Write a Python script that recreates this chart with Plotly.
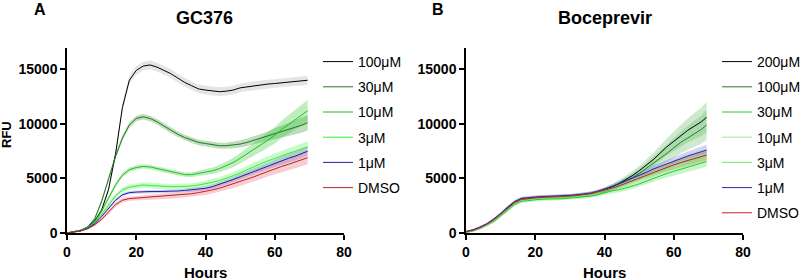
import plotly.graph_objects as go

# ---------------- data ----------------
hours = [0, 2, 4, 6, 8, 10, 12, 14, 16, 18, 20, 22, 24, 26, 28, 30, 32, 34, 36,
         38, 40, 42, 44, 46, 48, 50, 52, 54, 56, 58, 60, 62, 64, 66, 68, 69.5]

# Panel A: GC376
a_100 = [0, 100, 250, 550, 1100, 2100, 4000, 7200, 11500, 14000, 14900, 15300, 15400, 15200, 14900, 14600, 14200, 13800, 13500,
         13200, 13100, 13000, 12950, 13000, 13100, 13300, 13400, 13500, 13550, 13650, 13700, 13750, 13850, 13900, 13900, 14000]
a_30 = [0, 100, 250, 550, 1300, 2900, 5000, 7000, 8700, 9900, 10500, 10650, 10500, 10200, 9800, 9400, 9050, 8750, 8500,
        8300, 8200, 8100, 8000, 8000, 8050, 8150, 8300, 8500, 8650, 8850, 9100, 9300, 9500, 9700, 9900, 10100]
a_10 = [0, 100, 250, 500, 1000, 2000, 3200, 4400, 5300, 5800, 6000, 6100, 6050, 5900, 5750, 5600, 5450, 5350, 5350,
        5450, 5550, 5700, 5900, 6150, 6450, 6850, 7250, 7700, 8100, 8500, 8950, 9500, 9950, 10400, 10800, 11200]
a_3 = [0, 100, 250, 500, 950, 1700, 2600, 3400, 3950, 4200, 4300, 4400, 4350, 4300, 4250, 4250, 4250, 4250, 4300,
       4400, 4500, 4650, 4800, 5000, 5250, 5500, 5800, 6100, 6350, 6600, 6850, 7050, 7300, 7500, 7700, 7900]
a_1 = [0, 100, 200, 450, 850, 1500, 2300, 3000, 3500, 3700, 3750, 3800, 3800, 3800, 3800, 3850, 3850, 3900, 3950,
       4000, 4100, 4250, 4450, 4650, 4900, 5150, 5400, 5650, 5900, 6150, 6400, 6650, 6850, 7050, 7300, 7500]
a_dmso = [0, 100, 200, 400, 750, 1250, 1900, 2600, 3000, 3150, 3200, 3250, 3250, 3300, 3350, 3400, 3450, 3500, 3600,
          3700, 3800, 3950, 4100, 4300, 4500, 4700, 4950, 5150, 5400, 5650, 5900, 6100, 6300, 6500, 6700, 6900]

a_100_sd = [50, 60, 80, 100, 150, 200, 300, 400, 400, 400, 400, 400, 400, 400, 400, 400, 400, 400, 400,
            400, 400, 400, 400, 400, 400, 400, 400, 400, 400, 400, 400, 400, 400, 400, 400, 400]
a_30_sd = [50, 60, 80, 100, 150, 200, 250, 250, 250, 250, 250, 250, 250, 250, 250, 250, 250, 250, 250,
           250, 250, 260, 270, 280, 300, 320, 350, 380, 400, 450, 500, 550, 600, 650, 700, 700]
a_10_sd = [50, 60, 80, 100, 120, 150, 200, 200, 200, 200, 200, 200, 200, 200, 200, 200, 200, 200, 220,
           240, 260, 300, 340, 380, 420, 480, 540, 600, 650, 700, 750, 800, 850, 900, 950, 1000]
a_3_sd = [50, 60, 80, 100, 120, 150, 200, 200, 220, 240, 250, 250, 250, 250, 250, 250, 250, 250, 260,
          270, 280, 290, 300, 320, 340, 360, 380, 400, 420, 440, 460, 480, 500, 500, 500, 500]
a_1_sd = [50, 60, 80, 100, 120, 150, 150, 150, 150, 150, 150, 150, 150, 150, 150, 150, 150, 160, 170,
          180, 190, 200, 210, 220, 240, 260, 280, 300, 320, 340, 360, 380, 400, 400, 400, 400]
a_dmso_sd = [50, 60, 80, 100, 120, 150, 200, 200, 200, 200, 200, 200, 220, 240, 250, 260, 270, 280, 290,
             300, 310, 320, 340, 360, 380, 400, 420, 440, 460, 480, 500, 520, 540, 560, 580, 600]

# Panel B: Boceprevir
b_200 = [100, 250, 500, 800, 1200, 1700, 2300, 2800, 3100, 3200, 3250, 3300, 3300, 3350, 3350, 3400, 3450, 3500, 3600,
         3750, 3950, 4200, 4500, 4850, 5250, 5700, 6200, 6700, 7300, 7900, 8400, 8900, 9400, 9800, 10200, 10600]
b_100 = [100, 250, 480, 780, 1180, 1680, 2250, 2750, 3050, 3150, 3200, 3250, 3280, 3300, 3330, 3380, 3430, 3480, 3580,
         3700, 3850, 4100, 4400, 4700, 5050, 5450, 5900, 6350, 6850, 7300, 7800, 8300, 8700, 9100, 9500, 9900]
b_30 = [50, 180, 400, 700, 1050, 1550, 2100, 2600, 2900, 3000, 3050, 3100, 3100, 3150, 3150, 3200, 3250, 3300, 3380,
        3500, 3700, 3850, 3950, 4100, 4300, 4500, 4750, 5000, 5250, 5450, 5650, 5850, 6050, 6250, 6400, 6550]
b_10 = [100, 230, 470, 780, 1180, 1680, 2250, 2750, 3050, 3150, 3200, 3250, 3270, 3300, 3320, 3370, 3420, 3480, 3580,
        3720, 3900, 4100, 4350, 4600, 4850, 5100, 5350, 5600, 5850, 6100, 6350, 6550, 6750, 6950, 7100, 7250]
b_3 = [80, 200, 430, 730, 1120, 1620, 2180, 2680, 2980, 3080, 3130, 3180, 3200, 3230, 3250, 3300, 3350, 3420, 3520,
       3680, 3850, 4050, 4250, 4450, 4700, 4950, 5200, 5450, 5700, 5900, 6150, 6350, 6550, 6750, 6900, 7050]
b_1 = [150, 300, 550, 850, 1280, 1780, 2380, 2880, 3180, 3270, 3300, 3330, 3350, 3380, 3400, 3450, 3500, 3560, 3660,
       3820, 4000, 4250, 4500, 4750, 5000, 5250, 5550, 5850, 6100, 6350, 6600, 6850, 7050, 7250, 7450, 7600]
b_dmso = [100, 240, 480, 790, 1190, 1690, 2270, 2770, 3070, 3170, 3220, 3260, 3280, 3310, 3330, 3380, 3440, 3500, 3600,
          3750, 3900, 4100, 4300, 4550, 4800, 5050, 5300, 5550, 5800, 6050, 6250, 6450, 6650, 6850, 7000, 7150]

b_200_sd = [50, 60, 80, 100, 120, 150, 150, 150, 150, 150, 150, 150, 150, 150, 150, 150, 160, 170, 180,
            200, 220, 250, 300, 350, 400, 450, 500, 600, 700, 800, 900, 1000, 1100, 1200, 1300, 1400]
b_100_sd = [50, 60, 80, 100, 120, 150, 150, 150, 150, 150, 150, 150, 150, 150, 150, 150, 160, 170, 180,
            200, 220, 250, 300, 350, 400, 450, 500, 600, 700, 800, 900, 1000, 1100, 1200, 1300, 1400]
b_30_sd = [50, 60, 80, 100, 120, 150, 150, 150, 150, 150, 150, 150, 150, 150, 150, 150, 150, 150, 160,
           170, 180, 200, 220, 240, 260, 280, 300, 320, 340, 360, 380, 400, 420, 440, 460, 480]
b_10_sd = [50, 60, 80, 100, 120, 150, 150, 150, 150, 150, 150, 150, 150, 150, 150, 150, 150, 150, 160,
           170, 180, 200, 220, 240, 260, 280, 300, 320, 340, 360, 380, 400, 420, 440, 460, 480]
b_3_sd = [50, 60, 80, 100, 120, 150, 150, 150, 150, 150, 150, 150, 150, 150, 150, 150, 150, 150, 160,
          170, 180, 200, 220, 240, 260, 280, 300, 320, 340, 360, 380, 400, 420, 440, 460, 480]
b_1_sd = [50, 60, 80, 100, 120, 150, 150, 150, 150, 150, 150, 150, 150, 150, 150, 150, 150, 150, 160,
          170, 180, 200, 220, 240, 260, 280, 300, 320, 340, 360, 380, 400, 420, 440, 460, 480]
b_dmso_sd = [50, 60, 80, 100, 120, 150, 150, 150, 150, 150, 150, 150, 150, 150, 150, 150, 150, 150, 160,
             170, 180, 200, 220, 240, 260, 280, 300, 320, 340, 360, 380, 400, 420, 440, 460, 480]

labels_a = ["100μM", "30μM", "10μM", "3μM", "1μM", "DMSO"]
labels_b = ["200μM", "100μM", "30μM", "10μM", "3μM", "1μM", "DMSO"]
x_ticks = [0, 20, 40, 60, 80]
y_ticks = [0, 5000, 10000, 15000]

series_a = [(a_100, a_100_sd), (a_30, a_30_sd), (a_10, a_10_sd), (a_3, a_3_sd), (a_1, a_1_sd), (a_dmso, a_dmso_sd)]
series_b = [(b_200, b_200_sd), (b_100, b_100_sd), (b_30, b_30_sd), (b_10, b_10_sd), (b_3, b_3_sd), (b_1, b_1_sd), (b_dmso, b_dmso_sd)]

colors_a = ["#000000", "#1f7a1f", "#22c022", "#33ee33", "#1f1fa8", "#c01f2a"]
bands_a = ["rgba(150,150,150,0.25)", "rgba(40,140,40,0.30)", "rgba(40,200,40,0.30)",
           "rgba(80,240,80,0.30)", "rgba(80,80,200,0.25)", "rgba(220,60,70,0.25)"]
colors_b = ["#000000", "#2a7a2a", "#22cc22", "#a8e0a8", "#66ee66", "#2b2bb0", "#c01f2a"]
bands_b = ["rgba(60,170,60,0.25)", "rgba(60,170,60,0.25)", "rgba(40,210,40,0.25)",
           "rgba(150,220,150,0.25)", "rgba(100,240,100,0.25)", "rgba(80,80,200,0.25)", "rgba(220,60,70,0.20)"]

FONT = "Arial, Liberation Sans, sans-serif"

W, H = 800, 280


def px(x):
    return x / W


def py(y):
    return (H - y) / H


fig = go.Figure()


def add_panel(series, labels, colors, bands, xa, ya, legend):
    for (vals, sd), lab, col, band in zip(series, labels, colors, bands):
        upper = [v + s for v, s in zip(vals, sd)]
        lower = [v - s for v, s in zip(vals, sd)]
        fig.add_trace(go.Scatter(x=hours + hours[::-1], y=upper + lower[::-1], fill="toself",
                                 fillcolor=band, line=dict(width=0), mode="lines",
                                 hoverinfo="skip", showlegend=False, xaxis=xa, yaxis=ya))
    for (vals, sd), lab, col, band in zip(series, labels, colors, bands):
        fig.add_trace(go.Scatter(x=hours, y=vals, mode="lines", name=lab,
                                 line=dict(color=col, width=1), xaxis=xa, yaxis=ya,
                                 legend=legend, legendgroup=legend + lab))


add_panel(series_a, labels_a, colors_a, bands_a, "x", "y", "legend")
add_panel(series_b, labels_b, colors_b, bands_b, "x2", "y2", "legend2")

axis_common = dict(showline=True, linecolor="black", linewidth=1.5, ticks="outside",
                   ticklen=5, tickwidth=1.5, tickcolor="black", showgrid=False, zeroline=False,
                   automargin=False, tickformat="d",
                   tickfont=dict(family=FONT, size=14, color="black", weight="bold"))


def label(text, x, y, size, angle=0):
    return dict(text="<b>%s</b>" % text, x=px(x), y=py(y), xref="paper", yref="paper",
                xanchor="center", yanchor="middle", showarrow=False, textangle=angle,
                font=dict(size=size, family=FONT, color="black"))


ydom = [py(233), py(47.5)]
fig.update_layout(
    width=W, height=H, margin=dict(l=0, r=0, t=0, b=0, autoexpand=False),
    plot_bgcolor="white", paper_bgcolor="white",
    font=dict(family=FONT, color="black"),
    xaxis=dict(domain=[px(67), px(344)], range=[0, 80], tickvals=x_ticks, anchor="y", **axis_common),
    yaxis=dict(domain=ydom, range=[0, 17000], tickvals=y_ticks, anchor="x", **axis_common),
    xaxis2=dict(domain=[px(466), px(743)], range=[0, 80], tickvals=x_ticks, anchor="y2", **axis_common),
    yaxis2=dict(domain=ydom, range=[0, 17000], tickvals=y_ticks, anchor="x2", **axis_common),
    legend=dict(x=px(318), y=py(46), xanchor="left", yanchor="top",
                font=dict(size=14, family=FONT), itemwidth=30, tracegroupgap=4,
                bgcolor="rgba(0,0,0,0)"),
    legend2=dict(x=px(717), y=py(46), xanchor="left", yanchor="top",
                 font=dict(size=14, family=FONT), itemwidth=30, tracegroupgap=4,
                 bgcolor="rgba(0,0,0,0)"),
    annotations=[
        label("A", 40, 10, 16),
        label("B", 438, 10, 16),
        label("GC376", 205, 18, 18),
        label("Boceprevir", 605, 18, 18),
        label("Hours", 205.5, 272, 15),
        label("Hours", 604.5, 272, 15),
        label("RFU", 6, 135, 13, -90),
    ],
    showlegend=True,
)

fig.write_html("out.html", config={"displayModeBar": False},
               post_script="document.body.style.margin='0';")
